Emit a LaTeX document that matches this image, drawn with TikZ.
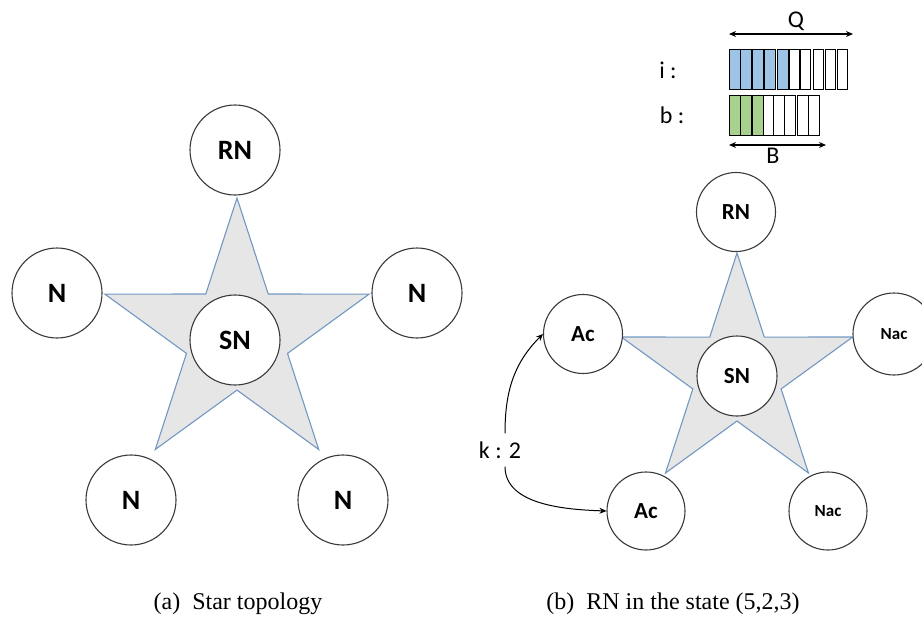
\documentclass[tikz,border=0pt]{standalone}
\usepackage{fontspec}
\newfontfamily\nodefont{Carlito}
\newfontfamily\captfont{Liberation Serif}
\usetikzlibrary{arrows.meta}
\definecolor{starfill}{HTML}{E7E6E6}
\definecolor{staredge}{HTML}{7298C2}
\definecolor{barblue}{HTML}{9DC3E6}
\definecolor{bargreen}{HTML}{A9D18E}
\definecolor{ringcol}{HTML}{3A3A3A}
\tikzset{
  ring/.style={circle, draw=ringcol, line width=1.1pt, fill=white, inner sep=0pt, minimum size=#1},
  bigtxt/.style={font=\nodefont\bfseries\fontsize{28}{30}\selectfont},
  midtxt/.style={font=\nodefont\bfseries\fontsize{23}{25}\selectfont},
  smalltxt/.style={font=\nodefont\bfseries\fontsize{17}{19}\selectfont},
  plaintxt/.style={font=\nodefont\fontsize{24}{26}\selectfont, inner sep=0pt},
  startype/.style={fill=starfill, draw=staredge, line width=1.1pt, line join=miter},
  barbox/.style={draw=black, line width=0.9pt},
  capt/.style={font=\captfont\fontsize{24}{27}\selectfont, inner sep=0pt},
  arr/.style={draw=black, line width=1pt, -{Stealth[length=7pt,width=6pt]}},
  darr/.style={draw=black, line width=1.1pt, {Stealth[length=7pt,width=6pt]}-{Stealth[length=7pt,width=6pt]}}
}
\begin{document}
\begin{tikzpicture}[x=1pt,y=-1pt]
\useasboundingbox (0,0) rectangle (922,625);

% ---------- (a) star topology ----------
\begin{scope}[shift={(237,337)}]
\filldraw[startype] (-90:139) -- (-54:53.1) -- (-18:139) -- (18:53.1) -- (54:139) -- (90:53.1) -- (126:139) -- (162:53.1) -- (198:139) -- (234:53.1) -- cycle;
\end{scope}
\node[ring=90, bigtxt] (aRN) at (235,150) {RN};
\node[ring=90, bigtxt] (aSN) at (235,340) {SN};
\node[ring=90, bigtxt] (aNl) at (57,293) {N};
\node[ring=90, bigtxt] (aNr) at (417,293) {N};
\node[ring=90, bigtxt] (aNbl) at (131,500) {N};
\node[ring=90, bigtxt] (aNbr) at (343,500) {N};

% ---------- (b) RN in the state ----------
\begin{scope}[shift={(737,374.6)}]
\filldraw[startype] (-90:121.6) -- (-54:46.4) -- (-18:121.6) -- (18:46.4) -- (54:121.6) -- (90:46.4) -- (126:121.6) -- (162:46.4) -- (198:121.6) -- (234:46.4) -- cycle;
\end{scope}
\node[ring=79, midtxt] (bRN) at (736,212) {RN};
\node[ring=80, midtxt] (bSN) at (737,376) {SN};
\node[ring=79, midtxt] (bAc1) at (583,334) {Ac};
\node[ring=78, midtxt] (bAc2) at (646,511) {Ac};
\node[ring=82, smalltxt] (bNac1) at (894,334) {Nac};
\node[ring=78, smalltxt] (bNac2) at (828,511) {Nac};

\node[plaintxt] (k) at (500,450) {k : 2};
\draw[arr] ([xshift=5pt,yshift=8pt]k.north) to[out=90,in=225] (bAc1.west);
\draw[arr] ([xshift=5pt,yshift=-8pt]k.south) to[out=-90,in=178, looseness=0.9] (bAc2.west);

% ---------- buffers ----------
\node[plaintxt] (ilab) at (668,70) {i :};
\node[plaintxt] (blab) at (672,115) {b :};
\foreach \x in {729,740,752,764,777} \draw[barbox, fill=barblue] (\x,49) rectangle ++(11,40);
\foreach \x in {789,800,813,825,837} \draw[barbox, fill=white] (\x,49) rectangle ++(10.5,40);
\foreach \x in {729,740,752} \draw[barbox, fill=bargreen] (\x,95) rectangle ++(11,40);
\foreach \x in {763,773,784,797,808} \draw[barbox, fill=white] (\x,95) rectangle ++(11,40);

\coordinate (q1) at (729,34);
\coordinate (q2) at (853,34);
\draw[darr] (q1) -- (q2);
\node[plaintxt] (qlab) at (796,21) {Q};
\coordinate (bb1) at (729,145);
\coordinate (bb2) at (826,145);
\draw[darr] (bb1) -- (bb2);
\node[plaintxt] (blab2) at (773,156) {B};

% ---------- captions ----------
\node[capt] (capa) at (238,604) {(a)\ \ Star topology};
\node[capt] (capb) at (673,604) {(b)\ \ RN in the state (5,2,3)};
\end{tikzpicture}
\end{document}
